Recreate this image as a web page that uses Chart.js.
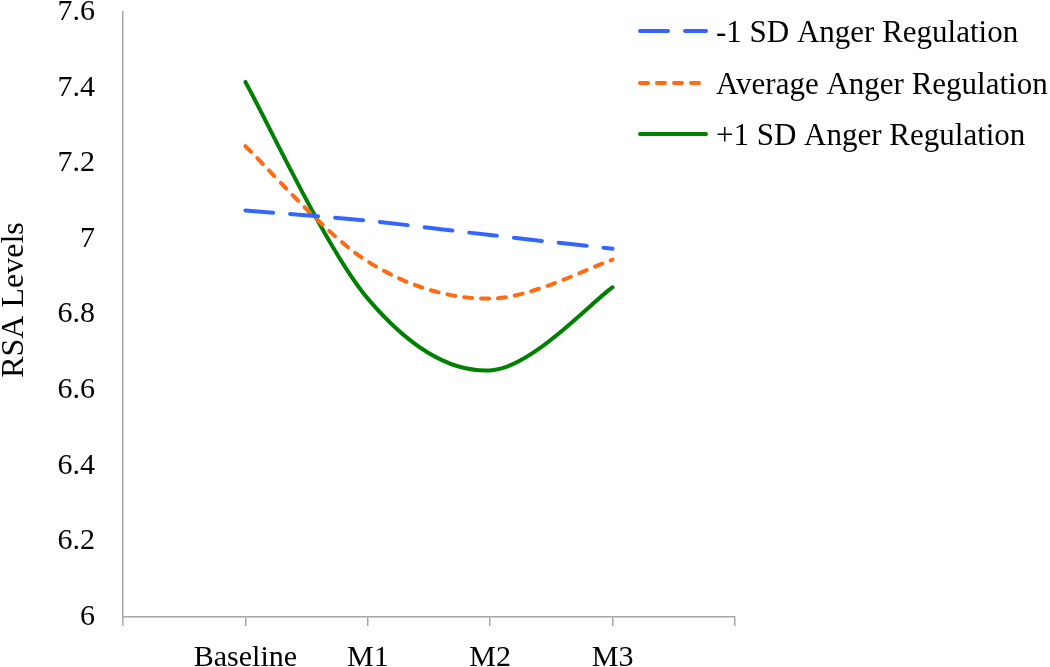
<!DOCTYPE html>
<html>
<head>
<meta charset="utf-8">
<script src="https://cdn.jsdelivr.net/npm/chart.js@4.4.0/dist/chart.umd.min.js"></script>
<style>
  html, body { margin: 0; padding: 0; background: #ffffff; }
  #wrap { width: 1050px; height: 667px; position: relative; }
</style>
</head>
<body>
<div id="wrap"><canvas id="c" width="1050" height="667"></canvas></div>
<script>
const categories = ["Baseline", "M1", "M2", "M3"];
const categoryPositions = [1, 2, 3, 4];
const seriesLabels = ["-1 SD Anger Regulation", "Average Anger Regulation", "+1 SD Anger Regulation"];
const lowRegulation = [7.075, 7.048, 7.01, 6.974];
const averageRegulation = [7.245, 6.94, 6.842, 6.945];
const highRegulation = [7.415, 6.842, 6.652, 6.872];
const yTickValues = [6, 6.2, 6.4, 6.6, 6.8, 7, 7.2, 7.4, 7.6];
const yAxisTitle = "RSA Levels";

const FONT = "'Liberation Serif', 'Times New Roman', serif";

function toPoints(values) {
  return values.map((v, i) => ({ x: categoryPositions[i], y: v }));
}

// Excel-like smoothing (Catmull-Rom) applied to the control points Chart.js computed
const smoothLines = {
  id: 'smoothLines',
  beforeDatasetDraw(chart, args) {
    const meta = args.meta;
    const line = meta.dataset;
    if (!line) return;
    line.updateControlPoints(chart.chartArea, meta.indexAxis);
    const pts = line.points;
    const n = pts.length;
    for (let i = 0; i < n; i++) {
      const prev = pts[Math.max(0, i - 1)];
      const next = pts[Math.min(n - 1, i + 1)];
      const tx = (next.x - prev.x) / 6;
      const ty = (next.y - prev.y) / 6;
      pts[i].cp1x = pts[i].x - tx;
      pts[i].cp1y = pts[i].y - ty;
      pts[i].cp2x = pts[i].x + tx;
      pts[i].cp2y = pts[i].y + ty;
    }
    delete line._path;
  }
};

const customLegend = {
  id: 'customLegend',
  afterDraw(chart) {
    const ctx = chart.ctx;
    const x0 = 640, lineLen = 66, textX = 716;
    const rows = [31, 83, 134];
    chart.data.datasets.forEach((ds, i) => {
      const y = rows[i];
      ctx.save();
      ctx.strokeStyle = ds.borderColor;
      ctx.lineWidth = ds.borderWidth;
      ctx.lineCap = ds.borderCapStyle || 'butt';
      ctx.setLineDash(ds.borderDash || []);
      ctx.beginPath();
      ctx.moveTo(x0, y);
      ctx.lineTo(x0 + lineLen, y);
      ctx.stroke();
      ctx.setLineDash([]);
      ctx.fillStyle = '#000000';
      ctx.font = '31px ' + FONT;
      ctx.textAlign = 'left';
      ctx.textBaseline = 'alphabetic';
      ctx.fillText(ds.label, textX, y + 11);
      ctx.restore();
    });
    // y axis title
    ctx.save();
    ctx.fillStyle = '#000000';
    ctx.font = '32px ' + FONT;
    ctx.translate(23, 300);
    ctx.rotate(-Math.PI / 2);
    ctx.textAlign = 'center';
    ctx.textBaseline = 'alphabetic';
    ctx.fillText(yAxisTitle, 0, 0);
    ctx.restore();
  }
};

new Chart(document.getElementById('c'), {
  type: 'line',
  data: {
    datasets: [
      {
        label: seriesLabels[0],
        data: toPoints(lowRegulation),
        borderColor: '#3366ff',
        borderWidth: 4,
        borderDash: [28, 17],
        borderCapStyle: 'round',
        pointRadius: 0,
        tension: 0.4,
        fill: false
      },
      {
        label: seriesLabels[1],
        data: toPoints(averageRegulation),
        borderColor: '#ff6a13',
        borderWidth: 4,
        borderDash: [8, 9],
        borderCapStyle: 'round',
        pointRadius: 0,
        tension: 0.4,
        fill: false
      },
      {
        label: seriesLabels[2],
        data: toPoints(highRegulation),
        borderColor: '#008000',
        borderWidth: 4,
        borderCapStyle: 'round',
        pointRadius: 0,
        tension: 0.4,
        fill: false
      }
    ]
  },
  options: {
    responsive: false,
    animation: false,
    devicePixelRatio: 1,
    layout: { padding: { top: 12, right: 315, left: 0, bottom: 0 } },
    plugins: {
      legend: { display: false },
      tooltip: { enabled: false }
    },
    scales: {
      x: {
        type: 'linear',
        min: 0,
        max: 5,
        afterFit(scale) { scale.height = 50; },
        afterBuildTicks(scale) {
          scale.ticks = [0, 1, 2, 3, 4, 5].map(v => ({ value: v }));
        },
        ticks: {
          autoSkip: false,
          maxRotation: 0,
          color: '#000000',
          font: { family: FONT, size: 30 },
          padding: 14,
          callback(v) {
            const idx = categoryPositions.indexOf(v);
            return idx >= 0 ? categories[idx] : '';
          }
        },
        grid: {
          drawOnChartArea: false,
          drawTicks: true,
          tickLength: 9,
          color: '#a6a6a6',
          lineWidth: 1.5
        },
        border: { color: '#a6a6a6', width: 1.5 }
      },
      y: {
        min: 6,
        max: 7.6,
        afterFit(scale) {
          scale.width = 123;
          scale.paddingTop = 0;
          scale.paddingBottom = 0;
        },
        afterBuildTicks(scale) {
          scale.ticks = yTickValues.map(v => ({ value: v }));
        },
        ticks: {
          color: '#000000',
          font: { family: FONT, size: 30 },
          padding: 28,
          callback(v) { return String(Math.round(v * 10) / 10); }
        },
        grid: { display: true, drawOnChartArea: false, drawTicks: false, tickLength: 0 },
        border: { color: '#a6a6a6', width: 1.5 },
        title: { display: false }
      }
    }
  },
  plugins: [smoothLines, customLegend]
});
</script>
</body>
</html>
